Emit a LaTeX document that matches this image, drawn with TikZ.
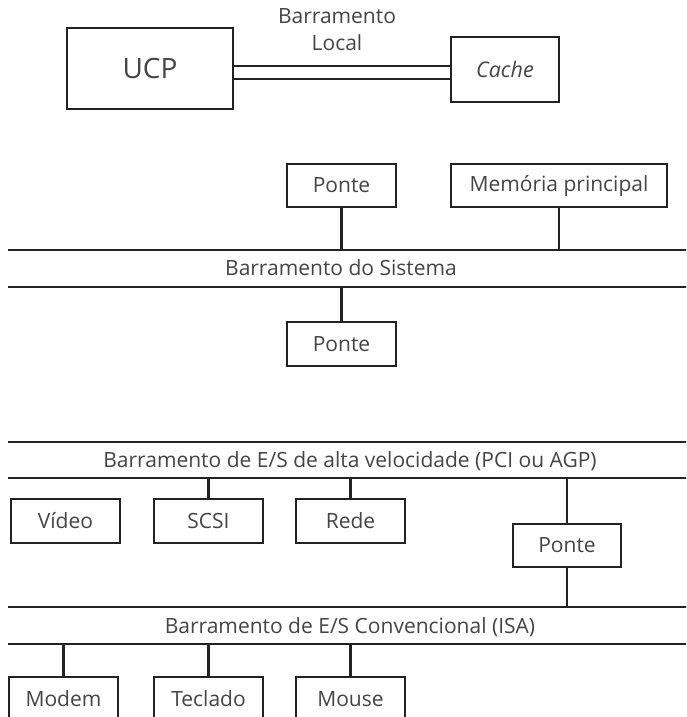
\documentclass[tikz,border=0pt]{standalone}
\usepackage{fontspec}
\setmainfont{Open Sans}
\definecolor{txt}{HTML}{444444}
\definecolor{ln}{HTML}{222222}
\begin{document}
\begin{tikzpicture}[x=1pt,y=-1pt,
  box/.style={draw=ln,line width=2.5pt,rectangle,inner sep=0pt,text=txt,font=\fontsize{21}{24}\selectfont},
  wire/.style={draw=ln,line width=2.5pt},
  lbl/.style={text=txt,inner sep=0pt,font=\fontsize{21}{27}\selectfont,align=center}]
\useasboundingbox (0,0) rectangle (686,717);
\clip (0,0) rectangle (686,717);
% top
\node[box,minimum width=166pt,minimum height=81pt,font=\fontsize{28}{30}\selectfont] (ucp) at (150,68.5) {UCP};
\node[box,minimum width=108pt,minimum height=65pt,font=\fontsize{21.5}{24}\selectfont] (cache) at (505,69.5) {\itshape Cache};
\node[lbl,text width=160pt] (bl) at (337,30) {Barramento\\Local};
\coordinate (l1) at (0,66);
\coordinate (l2) at (0,79);
\draw[wire] (ucp.east |- l1) -- (cache.west |- l1);
\draw[wire] (ucp.east |- l2) -- (cache.west |- l2);
% system bus
\node[box,minimum width=109pt,minimum height=43pt] (p1) at (341.5,185.5) {Ponte};
\node[box,minimum width=216pt,minimum height=43pt] (mem) at (559,185.5) {Memória principal\hspace{10pt}};
\coordinate (sysAL) at (8,250);
\coordinate (sysAR) at (690,250);
\coordinate (sysBL) at (8,287);
\coordinate (sysBR) at (690,287);
\draw[wire] (sysAL) -- (sysAR);
\draw[wire] (sysBL) -- (sysBR);
\node[lbl] (sysT) at (341,268) {Barramento do Sistema};
\node[box,minimum width=109pt,minimum height=44pt] (p2) at (341.5,344) {Ponte};
\draw[wire] (p1.south) -- (p1.south |- sysAL);
\draw[wire] (mem.south) -- (mem.south |- sysAL);
\draw[wire] (p2.north) -- (p2.north |- sysBL);
% high-speed I/O bus
\coordinate (ioAL) at (8,442);
\coordinate (ioAR) at (690,442);
\coordinate (ioBL) at (8,478);
\coordinate (ioBR) at (690,478);
\draw[wire] (ioAL) -- (ioAR);
\draw[wire] (ioBL) -- (ioBR);
\node[lbl] (ioT) at (350,461) {Barramento de E/S de alta velocidade (PCI ou AGP)};
\node[box,minimum width=109pt,minimum height=44pt] (video) at (65.5,521) {Vídeo};
\node[box,minimum width=109pt,minimum height=44pt] (scsi) at (208.5,521) {SCSI};
\node[box,minimum width=109pt,minimum height=44pt] (rede) at (350.5,521) {Rede};
\node[box,minimum width=108pt,minimum height=43pt] (p3) at (567,545.5) {Ponte};
\draw[wire] (scsi.north) -- (scsi.north |- ioBL);
\draw[wire] (rede.north) -- (rede.north |- ioBL);
\draw[wire] (p3.north) -- (p3.north |- ioBL);
% ISA bus
\coordinate (isaAL) at (8,607);
\coordinate (isaAR) at (690,607);
\coordinate (isaBL) at (8,644);
\coordinate (isaBR) at (690,644);
\draw[wire] (isaAL) -- (isaAR);
\draw[wire] (isaBL) -- (isaBR);
\node[lbl] (isaT) at (350,627) {Barramento de E/S Convencional (ISA)};
\draw[wire] (p3.south) -- (p3.south |- isaAL);
\node[box,minimum width=109pt,minimum height=44pt] (modem) at (63.5,699) {Modem};
\node[box,minimum width=109pt,minimum height=44pt] (tec) at (208.5,699) {Teclado};
\node[box,minimum width=109pt,minimum height=44pt] (mouse) at (350.5,699) {Mouse};
\draw[wire] (modem.north) -- (modem.north |- isaBL);
\draw[wire] (tec.north) -- (tec.north |- isaBL);
\draw[wire] (mouse.north) -- (mouse.north |- isaBL);
\end{tikzpicture}
\end{document}
